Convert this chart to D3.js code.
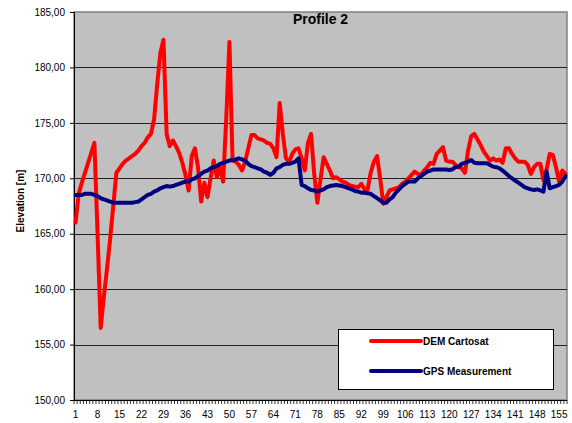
<!DOCTYPE html>
<html><head><meta charset="utf-8">
<script src="https://cdn.jsdelivr.net/npm/d3@7"></script>
<style>body{margin:0;background:#fff}svg{display:block}text{font-family:"Liberation Sans",Arial,sans-serif}</style>
</head><body>
<svg id="c" width="572" height="423"></svg>
<script>
const title = "Profile 2";
const yTitle = "Elevation [m]";
const seriesNames = ["DEM Cartosat", "GPS Measurement"];
const yTicks = [150,155,160,165,170,175,180,185];
const demCartosat = [
166.0,168.6,169.6,170.5,171.4,172.3,173.2,165.0,156.5,159.3,
161.8,164.5,167.5,170.5,170.9,171.3,171.6,171.8,172.0,172.2,
172.5,172.9,173.2,173.7,174.0,175.3,178.5,181.3,182.5,174.0,
172.9,173.4,172.9,172.3,171.4,170.3,168.9,172.0,172.7,171.0,
167.9,169.6,168.3,170.0,171.6,170.1,171.0,169.7,175.5,182.3,
171.6,171.5,171.2,170.7,171.5,172.7,173.9,173.9,173.6,173.5,
173.4,173.2,173.1,172.7,171.9,176.8,174.0,171.8,171.5,172.2,
172.6,172.7,171.8,170.7,173.2,174.0,170.4,167.8,169.9,171.9,
171.3,170.7,170.0,170.1,169.9,169.7,169.6,169.4,169.3,169.25,
169.2,169.5,169.0,169.0,170.5,171.5,172.0,170.0,167.7,168.3,
168.9,169.0,169.1,169.2,169.5,169.7,170.0,170.3,170.6,170.4,
170.3,170.7,171.0,171.4,171.3,172.2,172.5,172.8,171.6,171.5,
171.5,171.2,171.0,170.9,170.5,172.5,173.8,174.0,173.5,173.0,
172.4,172.0,171.6,171.8,171.6,171.7,171.4,172.7,172.7,172.2,
171.8,171.5,171.5,171.5,171.2,170.4,171.0,171.3,171.3,169.8,
170.8,172.2,172.1,171.0,169.7,170.7,170.4];
const gpsMeasurement = [
168.5,168.5,168.5,168.6,168.6,168.6,168.5,168.4,168.2,168.1,
168.0,167.9,167.8,167.8,167.8,167.8,167.8,167.8,167.8,167.85,
167.9,168.1,168.3,168.5,168.6,168.8,168.9,169.1,169.2,169.3,
169.25,169.3,169.4,169.5,169.6,169.7,169.7,169.9,170.0,170.2,
170.4,170.6,170.7,170.9,171.0,171.1,171.3,171.4,171.5,171.6,
171.65,171.7,171.8,171.7,171.6,171.3,171.1,171.0,170.9,170.8,
170.6,170.5,170.3,170.5,170.9,171.0,171.2,171.3,171.3,171.4,
171.5,171.8,169.4,169.3,169.1,168.95,168.9,168.8,168.9,169.0,
169.2,169.3,169.35,169.4,169.35,169.3,169.2,169.1,169.0,168.85,
168.8,168.7,168.7,168.65,168.6,168.4,168.2,168.0,167.8,167.8,
168.1,168.3,168.7,169.0,169.3,169.5,169.7,169.7,169.7,170.0,
170.2,170.4,170.6,170.7,170.8,170.8,170.8,170.8,170.8,170.75,
170.8,171.0,171.05,171.3,171.4,171.5,171.65,171.4,171.35,171.35,
171.35,171.35,171.2,171.05,171.0,170.9,170.7,170.45,170.2,170.0,
169.8,169.6,169.4,169.2,169.1,169.0,168.95,169.0,168.9,168.8,
170.6,169.1,169.2,169.3,169.4,169.7,170.2];
const categories = d3.range(1, demCartosat.length + 1);
const xLabels = categories.filter(d => (d - 1) % 7 === 0);

const svg = d3.select("#c");
const L = 74, R = 567, T = 12, B = 400;
const x = d3.scaleBand().domain(categories).range([L, R]).padding(0);
const y = d3.scaleLinear().domain([150, 185]).range([B, T]);
const cx = d => x(d) + x.bandwidth() / 2;

svg.append("rect").attr("x", L).attr("y", T).attr("width", R - L).attr("height", B - T)
  .attr("fill", "#C0C0C0").attr("stroke", "#808080").attr("stroke-width", 1.5);

// gridlines
svg.append("g").selectAll("line").data(yTicks.filter(v => v > 150 && v < 185)).join("line")
  .attr("x1", L).attr("x2", R)
  .attr("y1", d => Math.round(y(d)) + 0.5).attr("y2", d => Math.round(y(d)) + 0.5)
  .attr("stroke", "#222").attr("stroke-width", 1);

// y axis
const yAxis = d3.axisLeft(y).tickValues(yTicks).tickSize(4).tickPadding(5)
  .tickFormat(d => d3.format(".2f")(d).replace(".", ","));
const gy = svg.append("g").attr("transform", `translate(${L},0)`).call(yAxis);
gy.select(".domain").attr("stroke", "#000");
gy.selectAll("text").attr("font-size", 10).attr("fill", "#000");

// x axis ticks at band boundaries
const gx = svg.append("g");
gx.append("line").attr("x1", L).attr("x2", R).attr("y1", B + 0.5).attr("y2", B + 0.5).attr("stroke", "#000");
gx.selectAll("line.t").data(categories.concat([categories.length + 1])).join("line").attr("class", "t")
  .attr("x1", d => (d <= categories.length ? x(d) : R)).attr("x2", d => (d <= categories.length ? x(d) : R))
  .attr("y1", B).attr("y2", B + 4).attr("stroke", "#000").attr("stroke-width", 0.8);
gx.selectAll("text").data(xLabels).join("text")
  .attr("x", d => cx(d)).attr("y", 418).attr("text-anchor", "middle")
  .attr("font-size", 10).attr("fill", "#000").text(d => d);

// lines
const line = d3.line().x((d, i) => cx(categories[i])).y(d => y(d));
svg.append("path").datum(demCartosat).attr("d", line).attr("fill", "none")
  .attr("stroke", "#FF0000").attr("stroke-width", 4).attr("stroke-linejoin", "round").attr("stroke-linecap", "round");
svg.append("path").datum(gpsMeasurement).attr("d", line).attr("fill", "none")
  .attr("stroke", "#000080").attr("stroke-width", 4).attr("stroke-linejoin", "round").attr("stroke-linecap", "round");

// title
svg.append("text").attr("x", (L + R) / 2).attr("y", 24).attr("text-anchor", "middle")
  .attr("font-size", 14).attr("font-weight", "bold").text(title);
svg.append("text").attr("transform", "translate(24,201) rotate(-90)").attr("text-anchor", "middle")
  .attr("font-size", 10).attr("font-weight", "bold").text(yTitle);

// legend
const lg = svg.append("g");
lg.append("rect").attr("x", 338.5).attr("y", 329.5).attr("width", 215).attr("height", 60)
  .attr("fill", "#fff").attr("stroke", "#000");
const colors = ["#FF0000", "#000080"];
seriesNames.forEach((n, i) => {
  const yy = 341 + i * 30;
  lg.append("line").attr("x1", 371).attr("x2", 421).attr("y1", yy).attr("y2", yy)
    .attr("stroke", colors[i]).attr("stroke-width", 4).attr("stroke-linecap", "round");
  lg.append("text").attr("x", 423).attr("y", yy + 4).attr("font-size", 10).attr("font-weight", "bold").text(n);
});
</script>
</body></html>
